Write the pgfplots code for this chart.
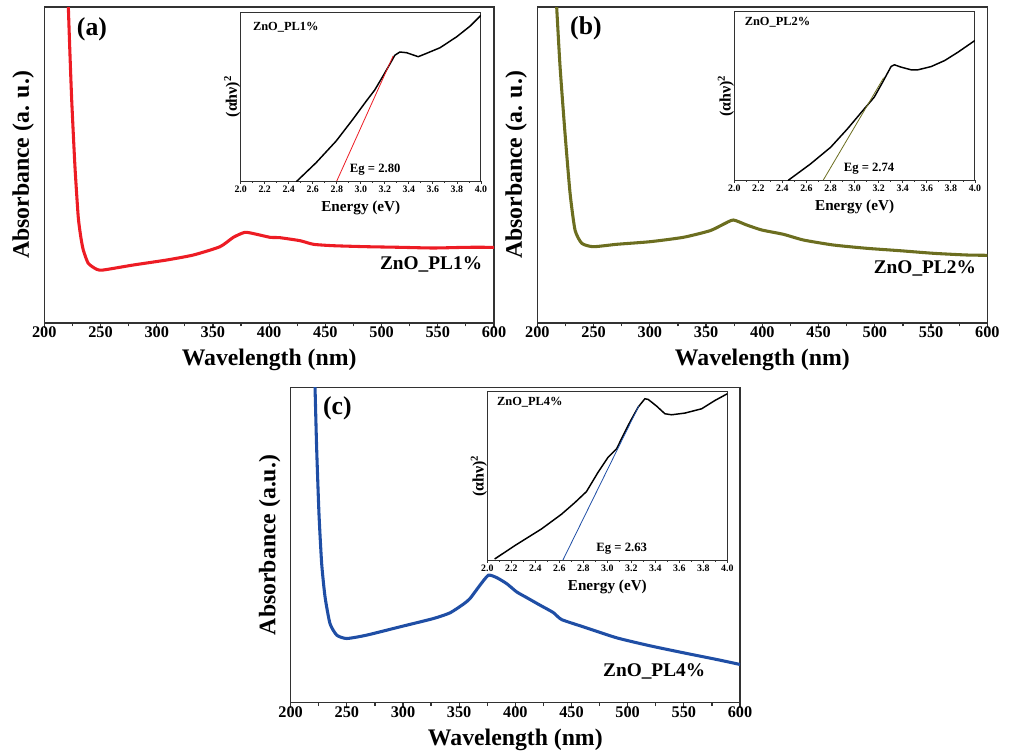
\documentclass[border=0pt]{standalone}
\usepackage{fontspec}
\setmainfont{Liberation Serif}
\usepackage{pgfplots}
\pgfplotsset{compat=1.18}
\definecolor{cred}{RGB}{237,28,36}
\definecolor{colive}{RGB}{108,110,32}
\definecolor{cblue}{RGB}{31,78,165}
\definecolor{cframe}{RGB}{50,50,50}
\pgfplotsset{
  mainax/.style={scale only axis, xmin=200, xmax=600, ymin=0, ymax=316,
    xtick={200,250,...,600}, minor x tick num=1, ytick=\empty,
    xtick pos=bottom, tick align=outside,
    major tick length=4pt, minor tick length=2.5pt,
    axis line style={line width=1pt, cframe},
    every tick/.style={line width=0.9pt, cframe},
    /pgf/number format/assume math mode=true,
    xticklabel style={font=\bfseries\fontsize{12.2}{13}\selectfont, anchor=base, yshift=-7pt},
    xlabel={Wavelength (nm)},
    xlabel style={font=\bfseries\fontsize{17.8}{18}\selectfont, at={(axis description cs:0.5,-0.117)}, anchor=center},
    ylabel style={font=\bfseries\fontsize{17.8}{18}\selectfont, at={(axis description cs:-0.047,0.5)}, anchor=center, rotate=0},
    clip=true},
  inax/.style={scale only axis, xmin=2, xmax=4, ymin=0,
    xtick={2.0,2.2,2.4,2.6,2.8,3.0,3.2,3.4,3.6,3.8,4.0}, minor x tick num=1, ytick=\empty,
    xtick pos=bottom, tick align=outside,
    major tick length=2.2pt, minor tick length=1.4pt,
    axis line style={line width=0.7pt, cframe},
    every tick/.style={line width=0.6pt, cframe},
    axis background/.style={fill=white},
    /pgf/number format/assume math mode=true,
    /pgf/number format/.cd, fixed, fixed zerofill, precision=1, /pgfplots/.cd,
    xticklabel style={font=\bfseries\fontsize{7.4}{8}\selectfont, anchor=base, yshift=-6.5pt},
    xlabel={Energy (eV)},
    xlabel style={font=\bfseries\fontsize{11.4}{12}\selectfont, at={(axis description cs:0.5,-0.16)}, anchor=center},
    ylabel={(αhν)\textsuperscript{2}},
    ylabel style={font=\bfseries\fontsize{12}{13}\selectfont, at={(axis description cs:-0.035,0.5)}, anchor=center},
    clip=true},
}
\begin{document}
\begin{tikzpicture}
\useasboundingbox (0,0) rectangle (756.75pt,-564.75pt);

% ---------------- panel (a)
\begin{axis}[mainax, at={(33.2pt,-242.25pt)}, anchor=south west, width=337.3pt, height=237pt,
  ylabel={Absorbance (a. u.)}]
\addplot[cred, line width=2.3pt, smooth, tension=0.35] coordinates {
(221.0,330) (222.5,280) (224.4,223) (227.3,156.3) (230.2,106.3) (232.5,86) (234.7,73) (239.1,59.7)
(246.6,53.7) (252.5,53) (279.2,58) (308.9,63) (332.6,68) (356.3,76.3) (368.2,85.7)
(378.6,90.7) (388.9,88.7) (400.8,85.7) (409.7,85.3) (427.5,82.3) (439.4,78.7)
(457.1,77.3) (486.8,76.3) (516.5,75.7) (546.1,75) (575.8,75.7) (600,75.7)};
\node[font=\bfseries\fontsize{19.3}{20}\selectfont] at (rel axis cs:0.106,0.930) {(a)};
\node[font=\bfseries\fontsize{14.5}{15}\selectfont, anchor=east] at (rel axis cs:0.984,0.184) {ZnO\_PL1\%};
\end{axis}
\begin{axis}[inax, at={(180.5pt,-135.75pt)}, anchor=south west, width=180.2pt, height=126.75pt, ymax=169]
\addplot[black, line width=1.1pt] coordinates {
(2.40,-20) (2.469,0) (2.628,18.3) (2.795,40) (2.934,61.7) (3.046,80) (3.116,91) (3.185,105)
(3.241,116.7) (3.283,125.7) (3.325,129) (3.381,128.3) (3.437,126) (3.478,124.3)
(3.548,127.7) (3.660,133.3) (3.799,144.3) (3.911,155) (4.0,165.7)};
\addplot[cred, line width=0.6pt] coordinates {(2.80,0) (3.269,125)};
\node[font=\bfseries\fontsize{9.3}{10}\selectfont, anchor=west] at (rel axis cs:0.032,0.909) {ZnO\_PL1\%};
\node[font=\bfseries\fontsize{9.5}{10}\selectfont] at (rel axis cs:0.56,0.065) {Eg = 2.80};
\end{axis}

% ---------------- panel (b)
\begin{axis}[mainax, at={(403.0pt,-242.25pt)}, anchor=south west, width=337.5pt, height=237pt,
  ylabel={Absorbance (a. u.)}]
\addplot[colive, line width=2.3pt, smooth, tension=0.35] coordinates {
(216.6,330) (217.2,315.7) (220.2,256.3) (224.6,189.7) (229.1,129.7) (233.5,93) (239.5,79.7)
(249.8,76.3) (270.6,78.7) (300.2,81.3) (329.8,85.7) (353.5,92.3) (365.3,98.7)
(374.2,103) (386.1,98) (399.5,93) (418.7,88.7) (436.5,83) (463.1,78) (492.8,74.7)
(522.4,72.3) (552,69.7) (581.7,68) (600,67.7)};
\node[font=\bfseries\fontsize{19.3}{20}\selectfont] at (rel axis cs:0.108,0.934) {(b)};
\node[font=\bfseries\fontsize{14.5}{15}\selectfont, anchor=east] at (rel axis cs:0.985,0.174) {ZnO\_PL2\%};
\end{axis}
\begin{axis}[inax, at={(550.7pt,-135pt)}, anchor=south west, width=180.5pt, height=126.2pt, ymax=168]
\addplot[black, line width=1.1pt] coordinates {
(2.38,-20) (2.452,0) (2.633,16) (2.801,32.7) (2.940,51) (3.080,71) (3.163,82.7)
(3.233,97.7) (3.303,113.3) (3.331,115) (3.386,112.7) (3.470,110) (3.526,110)
(3.637,113.3) (3.749,119.3) (3.860,127.7) (4.0,139.3)};
\addplot[colive, line width=0.6pt] coordinates {(2.74,0) (3.241,102)};
\node[font=\bfseries\fontsize{9.3}{10}\selectfont, anchor=west] at (rel axis cs:0.024,0.935) {ZnO\_PL2\%};
\node[font=\bfseries\fontsize{9.5}{10}\selectfont] at (rel axis cs:0.56,0.07) {Eg = 2.74};
\end{axis}

% ---------------- panel (c)
\begin{axis}[mainax, at={(218.0pt,-527.0pt)}, anchor=south west, width=337.0pt, height=236.5pt,
  ylabel={Absorbance (a.u.)}]
\addplot[cblue, line width=2.3pt, smooth, tension=0.35] coordinates {
(221.0,340) (221.7,315.3) (223.1,256) (225.2,189.3) (227.6,139.3) (230.6,106) (235,79.3)
(241,67.7) (249.9,64.3) (267.7,67.7) (297.3,76) (327,84.3) (341.8,90) (353.7,98.7)
(359.6,104.3) (368.5,117.7) (376,127.7) (383.4,125.3) (392.3,119.3) (401.2,111)
(410.1,105.3) (422,97.7) (433.8,90.3) (441.2,83.3) (460.5,76) (490.2,65)
(519.9,57) (549.6,50) (579.2,43.3) (600,38.3)};
\node[font=\bfseries\fontsize{19.3}{20}\selectfont] at (rel axis cs:0.104,0.934) {(c)};
\node[font=\bfseries\fontsize{14.5}{15}\selectfont, anchor=east] at (rel axis cs:0.933,0.098) {ZnO\_PL4\%};
\end{axis}
\begin{axis}[inax, at={(365.5pt,-420pt)}, anchor=south west, width=180pt, height=126.2pt, ymax=168]
\addplot[black, line width=1.1pt] coordinates {
(2.061,1) (2.228,14.3) (2.451,31) (2.618,45.7) (2.729,57.3) (2.826,68.3) (2.923,87.7)
(3.007,102.7) (3.077,111) (3.118,121) (3.188,137.7) (3.257,152.7) (3.313,161)
(3.341,160.3) (3.410,153.7) (3.480,146) (3.536,145) (3.647,146.7) (3.786,151)
(3.897,159.3) (4.0,166)};
\addplot[cblue, line width=0.6pt] coordinates {(2.63,0) (3.263,154)};
\node[font=\bfseries\fontsize{9.3}{10}\selectfont, anchor=west] at (rel axis cs:0.021,0.937) {ZnO\_PL4\%};
\node[font=\bfseries\fontsize{9.5}{10}\selectfont] at (rel axis cs:0.56,0.07) {Eg = 2.63};
\end{axis}
\end{tikzpicture}
\end{document}
